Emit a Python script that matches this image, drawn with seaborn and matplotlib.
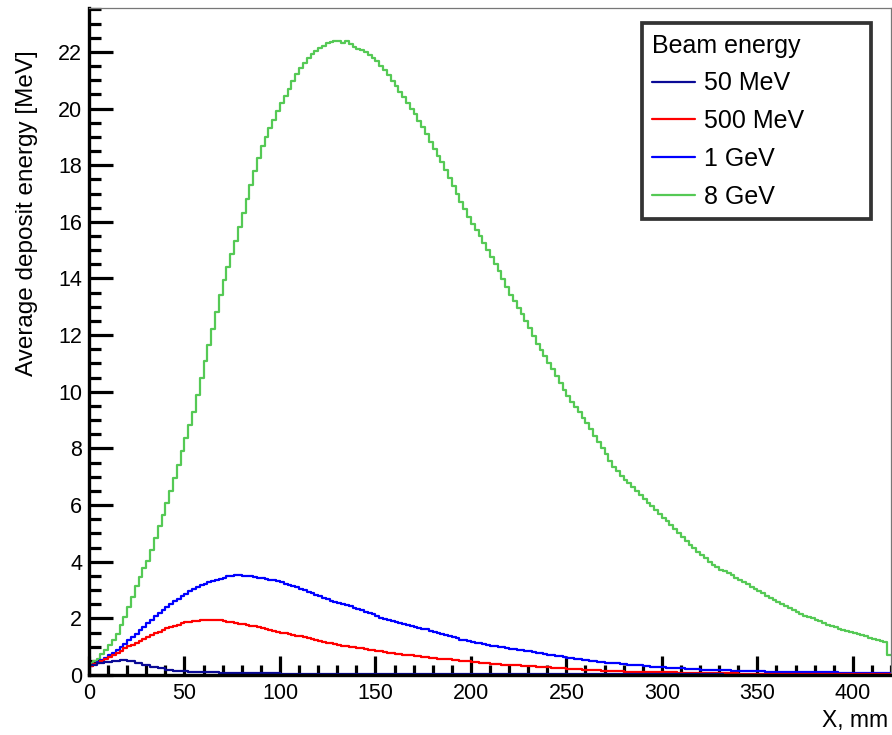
import numpy as np
import pandas as pd
import matplotlib
matplotlib.use("Agg")
import matplotlib.pyplot as plt
from matplotlib.lines import Line2D
from matplotlib.ticker import MultipleLocator
import seaborn as sns

# ---------------- data ----------------
x_min, x_max = 0, 420

labels = ["50 MeV", "500 MeV", "1 GeV", "8 GeV"]
colors = ["#0a0a96", "#ff0000", "#0000ff", "#55c955"]

# 8 GeV, 2 mm bins
e8GeV = [
    0.42, 0.50, 0.58, 0.73, 0.88, 1.05, 1.25, 1.45, 1.75, 2.05,
    2.39, 2.77, 3.15, 3.47, 3.79, 4.04, 4.43, 4.85, 5.25, 5.65,
    6.07, 6.51, 6.95, 7.43, 7.91, 8.38, 8.84, 9.30, 9.90, 10.50,
    11.08, 11.64, 12.20, 12.80, 13.40, 13.93, 14.39, 14.85, 15.33, 15.81,
    16.30, 16.80, 17.30, 17.78, 18.26, 18.66, 18.98, 19.30, 19.60, 19.90,
    20.18, 20.44, 20.70, 20.96, 21.22, 21.44, 21.62, 21.80, 21.92, 22.04,
    22.14, 22.22, 22.30, 22.34, 22.38, 22.40, 22.33, 22.37, 22.27, 22.19,
    22.12, 22.06, 22.00, 21.90, 21.80, 21.67, 21.51, 21.35, 21.17, 20.99,
    20.80, 20.60, 20.40, 20.20, 20.00, 19.79, 19.57, 19.35, 19.09, 18.83,
    18.58, 18.34, 18.10, 17.82, 17.54, 17.26, 16.98, 16.70, 16.44, 16.18,
    15.94, 15.72, 15.50, 15.26, 15.02, 14.77, 14.51, 14.25, 13.97, 13.69,
    13.43, 13.19, 12.95, 12.73, 12.51, 12.26, 11.98, 11.70, 11.48, 11.26,
    11.03, 10.79, 10.55, 10.31, 10.07, 9.85, 9.65, 9.45, 9.27, 9.09,
    8.89, 8.67, 8.45, 8.23, 8.01, 7.79, 7.57, 7.35, 7.19, 7.03,
    6.89, 6.77, 6.65, 6.51, 6.37, 6.23, 6.09, 5.95, 5.81, 5.67,
    5.54, 5.42, 5.30, 5.16, 5.02, 4.88, 4.74, 4.60, 4.48, 4.36,
    4.24, 4.12, 4.00, 3.90, 3.80, 3.72, 3.66, 3.60, 3.52, 3.44,
    3.36, 3.28, 3.20, 3.12, 3.04, 2.96, 2.88, 2.80, 2.72, 2.64,
    2.56, 2.49, 2.42, 2.35, 2.28, 2.22, 2.16, 2.10, 2.05, 2.00,
    1.94, 1.89, 1.84, 1.78, 1.73, 1.68, 1.64, 1.60, 1.56, 1.52,
    1.48, 1.44, 1.40, 1.36, 1.32, 1.28, 1.24, 1.20, 1.16, 0.70,
]

# 1 GeV, 2 mm bins
e1GeV = [
    0.33, 0.40, 0.46, 0.54, 0.61, 0.69, 0.79, 0.89, 0.98, 1.10,
    1.22, 1.34, 1.46, 1.58, 1.70, 1.82, 1.95, 2.07, 2.20, 2.31,
    2.40, 2.50, 2.60, 2.70, 2.79, 2.87, 2.95, 3.03, 3.11, 3.17,
    3.23, 3.29, 3.32, 3.36, 3.40, 3.44, 3.48, 3.50, 3.52, 3.53,
    3.49, 3.51, 3.49, 3.46, 3.43, 3.41, 3.38, 3.36, 3.34, 3.31,
    3.27, 3.23, 3.19, 3.15, 3.10, 3.04, 2.99, 2.93, 2.88, 2.82,
    2.78, 2.72, 2.67, 2.63, 2.58, 2.54, 2.50, 2.46, 2.42, 2.38,
    2.34, 2.29, 2.24, 2.18, 2.14, 2.08, 2.03, 1.99, 1.95, 1.91,
    1.87, 1.83, 1.79, 1.75, 1.72, 1.68, 1.65, 1.62, 1.61, 1.56,
    1.53, 1.49, 1.45, 1.41, 1.37, 1.33, 1.29, 1.25, 1.22, 1.19,
    1.17, 1.14, 1.12, 1.08, 1.06, 1.04, 1.02, 1.00, 0.98, 0.96,
    0.93, 0.91, 0.89, 0.87, 0.85, 0.83, 0.81, 0.79, 0.77, 0.75,
    0.72, 0.70, 0.68, 0.66, 0.63, 0.61, 0.60, 0.58, 0.56, 0.54,
    0.53, 0.51, 0.49, 0.47, 0.46, 0.44, 0.43, 0.41, 0.41, 0.39,
    0.38, 0.36, 0.36, 0.34, 0.34, 0.32, 0.31, 0.29, 0.29, 0.27,
    0.27, 0.26, 0.25, 0.24, 0.24, 0.23, 0.22, 0.21, 0.21, 0.20,
    0.19, 0.19, 0.18, 0.18, 0.17, 0.17, 0.16, 0.16, 0.15, 0.15,
    0.15, 0.14, 0.14, 0.14, 0.13, 0.13, 0.13, 0.12, 0.12, 0.12,
    0.11, 0.11, 0.11, 0.11, 0.10, 0.10, 0.10, 0.10, 0.10, 0.10,
    0.09, 0.09, 0.09, 0.09, 0.09, 0.09, 0.08, 0.08, 0.08, 0.08,
    0.08, 0.08, 0.08, 0.08, 0.07, 0.07, 0.07, 0.07, 0.07, 0.07,
]

# 500 MeV, 2 mm bins
e500MeV = [
    0.33, 0.38, 0.43, 0.49, 0.55, 0.62, 0.70, 0.78, 0.86, 0.94,
    1.01, 1.07, 1.14, 1.20, 1.28, 1.34, 1.41, 1.47, 1.53, 1.59,
    1.65, 1.69, 1.74, 1.78, 1.82, 1.86, 1.88, 1.90, 1.91, 1.93,
    1.94, 1.94, 1.94, 1.93, 1.93, 1.91, 1.88, 1.86, 1.83, 1.81,
    1.79, 1.77, 1.74, 1.72, 1.69, 1.65, 1.62, 1.58, 1.55, 1.53,
    1.50, 1.48, 1.44, 1.42, 1.38, 1.36, 1.33, 1.31, 1.27, 1.23,
    1.19, 1.17, 1.14, 1.12, 1.08, 1.06, 1.04, 1.02, 1.00, 0.98,
    0.96, 0.94, 0.91, 0.89, 0.87, 0.85, 0.83, 0.81, 0.79, 0.77,
    0.75, 0.73, 0.72, 0.70, 0.69, 0.67, 0.66, 0.64, 0.63, 0.61,
    0.60, 0.58, 0.58, 0.56, 0.55, 0.53, 0.53, 0.51, 0.50, 0.48,
    0.47, 0.45, 0.44, 0.43, 0.42, 0.40, 0.40, 0.38, 0.37, 0.37,
    0.36, 0.35, 0.35, 0.33, 0.33, 0.31, 0.31, 0.29, 0.29, 0.27,
    0.27, 0.25, 0.25, 0.23, 0.23, 0.22, 0.21, 0.20, 0.20, 0.19,
    0.18, 0.17, 0.17, 0.16, 0.15, 0.15, 0.14, 0.14, 0.13, 0.13,
    0.12, 0.12, 0.12, 0.11, 0.11, 0.11, 0.10, 0.10, 0.10, 0.10,
    0.09, 0.09, 0.09, 0.09, 0.08, 0.08, 0.08, 0.08, 0.07, 0.07,
    0.07, 0.07, 0.07, 0.07, 0.06, 0.06, 0.06, 0.06, 0.06, 0.06,
    0.05, 0.05, 0.05, 0.05, 0.05, 0.05, 0.05, 0.05, 0.05, 0.05,
    0.04, 0.04, 0.04, 0.04, 0.04, 0.04, 0.04, 0.04, 0.04, 0.04,
    0.04, 0.04, 0.03, 0.03, 0.03, 0.03, 0.03, 0.03, 0.03, 0.03,
    0.03, 0.03, 0.03, 0.03, 0.03, 0.03, 0.03, 0.03, 0.03, 0.03,
]

# 50 MeV, 4 mm bins
e50MeV = [
    0.35, 0.42, 0.47, 0.51, 0.52, 0.49, 0.43, 0.35, 0.29, 0.24,
    0.19, 0.15, 0.13, 0.11, 0.10, 0.09, 0.09, 0.08, 0.08, 0.07,
    0.07, 0.07, 0.06, 0.06, 0.06, 0.05, 0.05, 0.05, 0.05, 0.05,
    0.05, 0.05, 0.05, 0.05, 0.05, 0.05, 0.05, 0.05, 0.04, 0.04,
    0.04, 0.04, 0.04, 0.04, 0.04, 0.04, 0.04, 0.04, 0.04, 0.04,
    0.04, 0.04, 0.04, 0.03, 0.03, 0.03, 0.03, 0.03, 0.03, 0.03,
    0.03, 0.03, 0.03, 0.03, 0.03, 0.03, 0.03, 0.03, 0.02, 0.02,
    0.02, 0.02, 0.02, 0.02, 0.02, 0.02, 0.02, 0.02, 0.02, 0.02,
    0.02, 0.02, 0.02, 0.01, 0.01, 0.01, 0.01, 0.01, 0.01, 0.01,
    0.01, 0.01, 0.01, 0.01, 0.01, 0.01, 0.01, 0.01, 0.01, 0.01,
    0.01, 0.01, 0.01, 0.01, 0.01,
]

series = [e50MeV, e500MeV, e1GeV, e8GeV]

# ---------------- style ----------------
sns.set_theme(style="white", rc={"text.color": "black", "axes.labelcolor": "black",
                                 "xtick.color": "black", "ytick.color": "black"})
plt.rcParams["font.family"] = ["Liberation Sans", "DejaVu Sans"]

fig = plt.figure(figsize=(8.92, 7.35), dpi=100)
ax = fig.add_axes([89 / 892, 60 / 735, 802 / 892, 667 / 735])

# draw 8 GeV first, 50 MeV last
for idx in [3, 2, 1, 0]:
    vals = series[idx]
    nb = len(vals)
    width = (x_max - x_min) / nb
    centers = x_min + width * (np.arange(nb) + 0.5)
    df = pd.DataFrame({"x": centers, "w": vals})
    sns.histplot(data=df, x="x", weights="w", bins=nb,
                 binrange=(x_min, x_max), element="step",
                 fill=False, color=colors[idx], linewidth=1.6, ax=ax)

ax.set_xlim(x_min, x_max)
ax.set_ylim(0, 23.55)
ax.set_xlabel("")
ax.set_ylabel("")

ax.xaxis.set_major_locator(MultipleLocator(50))
ax.xaxis.set_minor_locator(MultipleLocator(10))
ax.yaxis.set_major_locator(MultipleLocator(2))
ax.yaxis.set_minor_locator(MultipleLocator(0.5))

ax.tick_params(axis="x", which="major", direction="in", length=14, width=2.3,
               color="black", labelcolor="black", labelsize=15.5, pad=5.5,
               top=False, bottom=True)
ax.tick_params(axis="x", which="minor", direction="in", length=7.5, width=2.3,
               color="black", top=False, bottom=True)
ax.tick_params(axis="y", which="major", direction="in", length=17.5, width=2.3,
               color="black", labelcolor="black", labelsize=15.5, pad=5,
               right=False, left=True)
ax.tick_params(axis="y", which="minor", direction="in", length=8.5, width=2.3,
               color="black", right=False, left=True)

for side in ["left", "bottom"]:
    ax.spines[side].set_color("black")
    ax.spines[side].set_linewidth(2.4)
for side in ["top", "right"]:
    ax.spines[side].set_color("#777777")
    ax.spines[side].set_linewidth(0.9)

ax.text(-0.0773, 0.937, "Average deposit energy [MeV]", rotation=90,
        ha="center", va="top", fontsize=17.5, color="black",
        transform=ax.transAxes)
ax.text(0.997, -0.0675, "X, mm", ha="right", va="center", fontsize=16.5,
        color="black", transform=ax.transAxes)

handles = [Line2D([0], [0], color=c, lw=1.6) for c in colors]
leg = ax.legend(handles, labels, title="Beam energy", loc="upper left",
                bbox_to_anchor=(0.6895, 0.5, 0.2855, 0.4775), mode="expand",
                fontsize=18, title_fontsize=18,
                frameon=True, fancybox=False, edgecolor="black",
                handlelength=1.7, handletextpad=0.35, labelspacing=0.55,
                borderpad=0.42, borderaxespad=0, alignment="left")
leg.get_frame().set_linewidth(2.7)
leg.get_frame().set_facecolor("white")
leg.get_frame().set_edgecolor("black")
leg.get_title().set_color("black")
for t in leg.get_texts():
    t.set_color("black")

fig.savefig("out.png", dpi=100)
